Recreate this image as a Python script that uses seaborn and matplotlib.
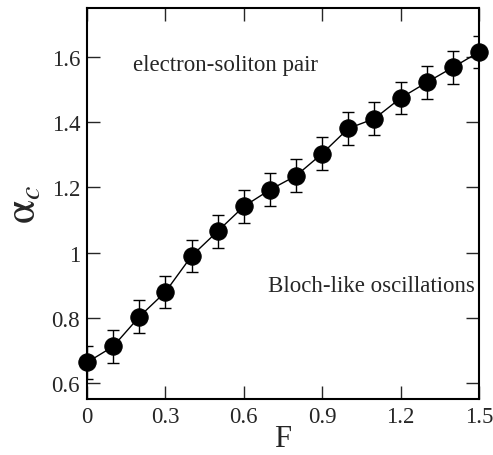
import numpy as np
import pandas as pd
import matplotlib
matplotlib.use("Agg")
import matplotlib.pyplot as plt
import seaborn as sns

# data
force = [0.0, 0.1, 0.2, 0.3, 0.4, 0.5, 0.6, 0.7, 0.8, 0.9, 1.0, 1.1, 1.2, 1.3, 1.4, 1.5]
alpha_c = [0.664, 0.713, 0.804, 0.880, 0.990, 1.066, 1.142, 1.193, 1.236, 1.304,
           1.381, 1.411, 1.474, 1.522, 1.568, 1.615]
alpha_err = [0.05] * 16
x_ticks = [0, 0.3, 0.6, 0.9, 1.2, 1.5]
x_tick_labels = ["0", "0.3", "0.6", "0.9", "1.2", "1.5"]
y_ticks = [0.6, 0.8, 1.0, 1.2, 1.4, 1.6]
y_tick_labels = ["0.6", "0.8", "1", "1.2", "1.4", "1.6"]

df = pd.DataFrame({"F": force, "alpha_c": alpha_c, "err": alpha_err})

sns.set_style("ticks")
plt.rcParams["font.family"] = ["Liberation Serif", "DejaVu Serif"]
plt.rcParams["mathtext.fontset"] = "stix"

fig = plt.figure(figsize=(4.93, 4.56), dpi=100)
ax = fig.add_axes([0.1765, 0.1228, 0.7951, 0.8575])

ax.errorbar(df["F"], df["alpha_c"], yerr=df["err"], fmt="none",
            ecolor="black", elinewidth=1.0, capsize=4.3, capthick=1.0, zorder=2)
sns.lineplot(data=df, x="F", y="alpha_c", ax=ax, color="black", linewidth=1.0,
             marker="o", markersize=12.5, markerfacecolor="black",
             markeredgecolor="black", zorder=3, clip_on=False)

ax.set_xlim(0, 1.5)
ax.set_ylim(0.552, 1.75)
ax.set_xticks(x_ticks)
ax.set_xticklabels(x_tick_labels)
ax.set_yticks(y_ticks)
ax.set_yticklabels(y_tick_labels)
ax.tick_params(direction="in", length=9.5, width=1.0, labelsize=16.5,
               top=True, right=True, pad=5)

for s in ax.spines.values():
    s.set_linewidth(1.5)
    s.set_color("black")

ax.set_xlabel("F", fontsize=22, labelpad=-2)
ax.set_ylabel(r"$\mathrm{\alpha}_{c}$", fontsize=31, labelpad=5)

ax.text(0.176, 1.578, "electron-soliton pair", fontsize=16.5, va="center", ha="left")
ax.text(0.693, 0.901, "Bloch-like oscillations", fontsize=16.5, va="center", ha="left")

fig.savefig("out.png", dpi=100)
